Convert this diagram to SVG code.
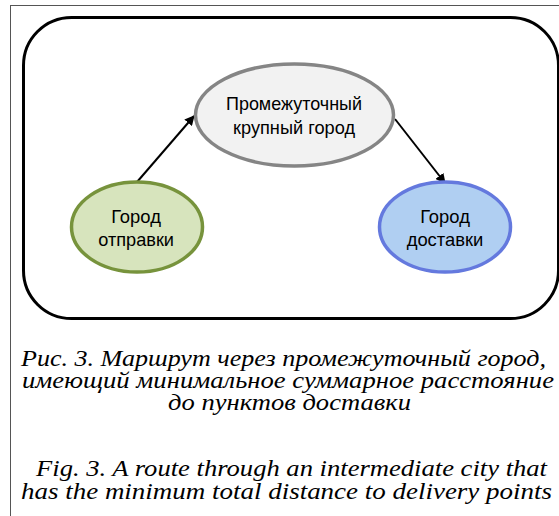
<svg xmlns="http://www.w3.org/2000/svg" width="559" height="516" viewBox="0 0 559 516">
<style>
.node text{font-family:"Liberation Sans",Arial,sans-serif;font-size:18.4px;fill:#000;text-anchor:start}
.cap{font-family:"Liberation Serif","Times New Roman",serif;font-style:italic;font-size:23px;fill:#000}
.conn line{stroke:#000;stroke-width:2;marker-end:url(#ah)}
</style>
<defs>
<marker id="ah" viewBox="0 0 10 10" refX="9" refY="5" markerWidth="5" markerHeight="5" orient="auto" markerUnits="strokeWidth">
<path d="M0,0 L10,5 L0,10 z" fill="#000"/>
</marker>
</defs>
<rect x="0" y="0" width="559" height="516" fill="#fff"/>
<rect id="frame" x="10.5" y="5.5" width="560" height="520" fill="none" stroke="#555" stroke-width="1"/>
<rect id="container" x="23.5" y="17.5" width="535" height="301" rx="48" ry="48" fill="#fff" stroke="#000" stroke-width="3"/>
<g id="connectors" class="conn">
<line x1="137" y1="182" x2="194" y2="116"/>
<line x1="395" y1="119" x2="445" y2="183"/>
</g>
<g id="node-intermediate" class="node">
<ellipse cx="294.5" cy="115" rx="99" ry="51" fill="#f2f2f2" stroke="#858585" stroke-width="3.5"/>
<text x="226" y="110" textLength="136" lengthAdjust="spacingAndGlyphs">Промежуточный</text>
<text x="233" y="134" textLength="122" lengthAdjust="spacingAndGlyphs">крупный город</text>
</g>
<g id="node-origin" class="node">
<ellipse cx="137" cy="227" rx="65.5" ry="45" fill="#d7e4bd" stroke="#77933c" stroke-width="3.5"/>
<text x="136" y="223" style="text-anchor:middle">Город</text>
<text x="98.3" y="246" textLength="75.7" lengthAdjust="spacingAndGlyphs">отправки</text>
</g>
<g id="node-destination" class="node">
<ellipse cx="445" cy="227" rx="65.5" ry="45" fill="#b0cff2" stroke="#6479de" stroke-width="3.5"/>
<text x="445" y="223" style="text-anchor:middle">Город</text>
<text x="445" y="246" style="text-anchor:middle">доставки</text>
</g>
<g id="caption">
<text class="cap"><tspan x="21" y="366" textLength="525" lengthAdjust="spacingAndGlyphs">Рис. 3. Маршрут через промежуточный город,</tspan><tspan x="22" y="388" textLength="532" lengthAdjust="spacingAndGlyphs">имеющий минимальное суммарное расстояние</tspan><tspan x="168" y="410" textLength="243" lengthAdjust="spacingAndGlyphs">до пунктов доставки</tspan></text>
<text class="cap"><tspan x="36" y="476" textLength="511" lengthAdjust="spacingAndGlyphs">Fig. 3. A route through an intermediate city that</tspan><tspan x="21" y="499" textLength="531" lengthAdjust="spacingAndGlyphs">has the minimum total distance to delivery points</tspan></text>
</g>
</svg>
